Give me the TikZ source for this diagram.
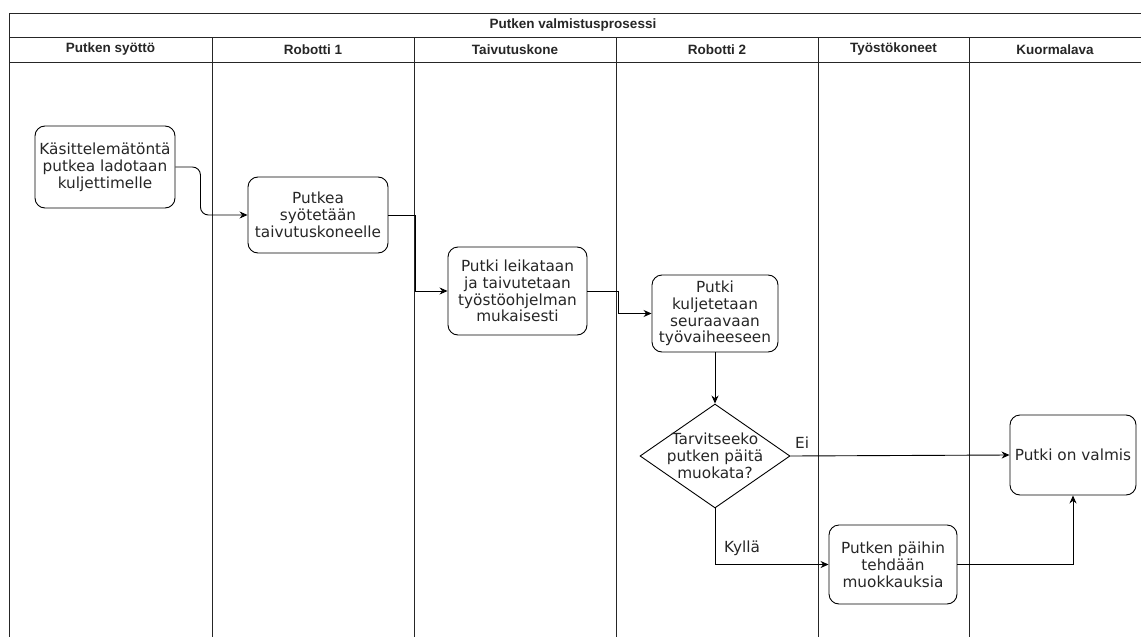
\documentclass[tikz,border=0pt]{standalone}
\usepackage{fontspec}
\setmainfont{DejaVu Sans}
\newfontfamily\hdrfont{Liberation Sans}
\usetikzlibrary{shapes.geometric,arrows.meta}
\begin{document}
\begin{tikzpicture}[x=1pt,y=-1pt,
  every node/.style={text=black!85},
  frame/.style={draw=black!85,line width=0.9pt},
  hdr/.style={font=\hdrfont\bfseries\fontsize{13.5}{15}\selectfont},
  proc/.style={draw=black,line width=0.9pt,rounded corners=10pt,align=center,inner sep=1pt,
    font=\fontsize{15.3}{16.8}\selectfont},
  flow/.style={draw=black,line width=0.9pt,-{Stealth[length=8pt,width=7pt]}},
  lbl/.style={font=\fontsize{15.3}{16.8}\selectfont,inner sep=0pt}]
\useasboundingbox (0,0) rectangle (1141,637);
% pool frame
\draw[frame] (9,637) -- (9,13) -- (1141,13);
\draw[frame] (9,37) -- (1141,37);
\draw[frame] (9,62) -- (1141,62);
\foreach \xx in {212,414,616,818,969} \draw[frame] (\xx,37) -- (\xx,637);
\node[hdr] (title) at (573,25) {Putken valmistusprosessi};
\node[hdr] (l1) at (110.5,49.5) {Putken syöttö};
\node[hdr] (l2) at (313,49.5) {Robotti 1};
\node[hdr] (l3) at (515,49.5) {Taivutuskone};
\node[hdr] (l4) at (717,49.5) {Robotti 2};
\node[hdr] (l5) at (893.5,49.5) {Työstökoneet};
\node[hdr] (l6) at (1055,49.5) {Kuormalava};
% nodes
\node[proc,minimum width=140pt,minimum height=82pt] (n1) at (105,167) {Käsittelemätöntä\\putkea ladotaan\\kuljettimelle};
\node[proc,minimum width=140pt,minimum height=76pt] (n2) at (318,215) {Putkea\\syötetään\\taivutuskoneelle};
\node[proc,minimum width=139pt,minimum height=88pt] (n3) at (517.5,291) {Putki leikataan\\ja taivutetaan\\työstöohjelman\\mukaisesti};
\node[proc,minimum width=126pt,minimum height=77pt] (n4) at (715,313.5) {Putki\\kuljetetaan\\seuraavaan\\työvaiheeseen};
\node[diamond,draw=black,line width=0.9pt,inner sep=0pt,minimum width=150pt,minimum height=104pt] (d) at (715,456) {};
\node[align=center,font=\fontsize{15.3}{16.8}\selectfont,inner sep=0pt] (dt) at (715,456) {Tarvitseeko\\putken päitä\\muokata?};
\node[proc,minimum width=126pt,minimum height=80pt] (n5) at (1073,455) {Putki on valmis};
\node[proc,minimum width=128pt,minimum height=79pt] (n6) at (893,564.5) {Putken päihin\\tehdään\\muokkauksia};
% connectors
\draw[flow,rounded corners=8pt] (n1.east) -- ++(25,0) |- (n2.west);
\draw[flow] (n2.east) -- ++(27,0) |- (n3.west);
\draw[flow] (n3.east) -- ++(31,0) |- (n4.west);
\draw[flow] (n4.south) -- (d.north);
\draw[flow] (d.east) -- (n5.west);
\node[lbl,anchor=west] (ei) at (795,443) {Ei};
\draw[flow] (d.south) |- (n6.west);
\node[lbl,anchor=west] (ky) at (724,548) {Kyllä};
\draw[flow] (n6.east) -| (n5.south);
\end{tikzpicture}
\end{document}
